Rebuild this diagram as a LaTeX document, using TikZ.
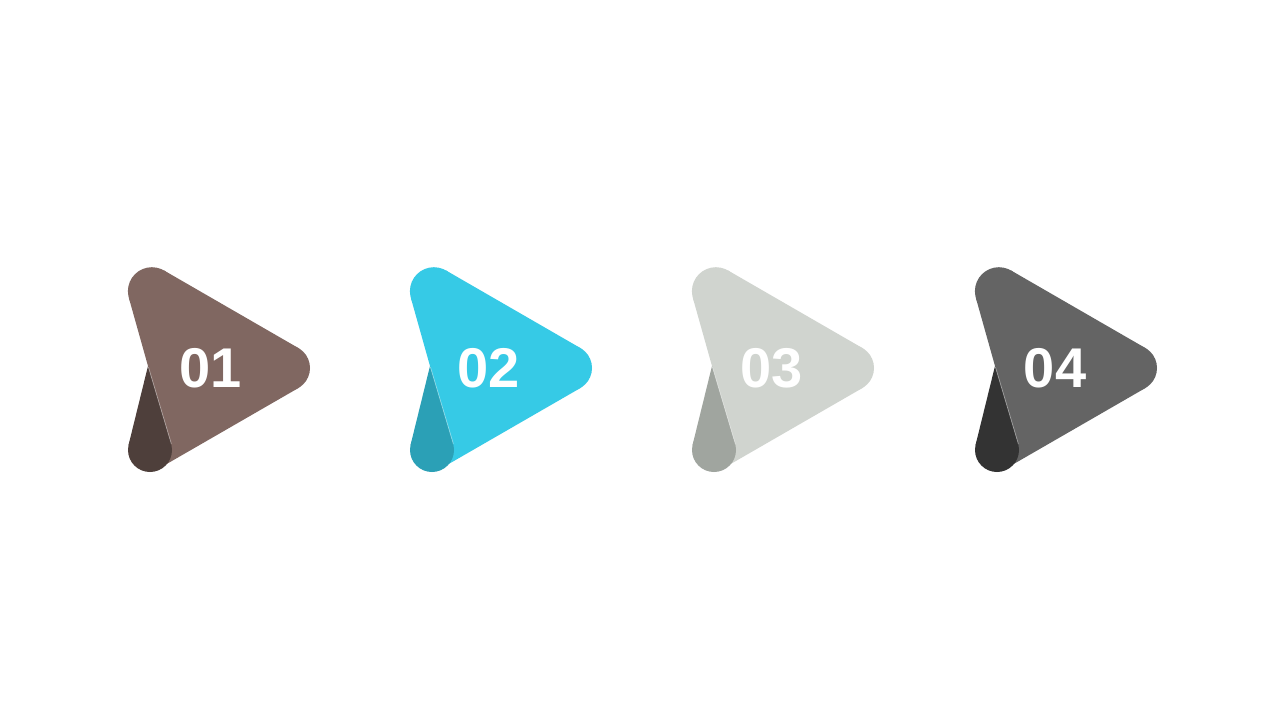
\documentclass[tikz,border=0pt]{standalone}
\usepackage{fontspec}
\setmainfont{Liberation Sans}
\definecolor{lightA}{HTML}{806761}
\definecolor{darkA}{HTML}{4E3F3B}
\definecolor{lightB}{HTML}{36CAE6}
\definecolor{darkB}{HTML}{2BA0B6}
\definecolor{lightC}{HTML}{D0D4CF}
\definecolor{darkC}{HTML}{A0A59F}
\definecolor{lightD}{HTML}{646464}
\definecolor{darkD}{HTML}{333333}
\tikzset{
  numlabel/.style={text=white, inner sep=0pt, font=\fontsize{56}{60}\selectfont\bfseries},
  glint/.style={draw=white, draw opacity=0.45, line width=0.7pt}
}
% #1 x shift, #2 light colour, #3 dark colour, #4 label, #5 label x, #6 name
\newcommand\playshape[6]{%
  \begin{scope}[xshift=#1pt]
    \fill[#2] (163.9,270.4) -- (298.5,348.1) -- (298.6,387.9) -- (158,469)
      -- (148,366) -- (128.8,297.7) -- cycle;
    \fill[#2] (151.9,291.2) circle (24);
    \fill[#2] (287,368) circle (23);
    \fill[#3] (148,366) -- (128.6,444.8) -- (171.1,443.7) -- cycle;
    \fill[#3] (150,450) circle (22);
    \draw[glint] (148.4,367) -- (171.3,443.7);
  \end{scope}
  \node[numlabel] (#6) at (#5,368) {#4};
}
\begin{document}
\begin{tikzpicture}[x=1pt,y=-1pt]
  \useasboundingbox (0,0) rectangle (1280,720);
  \fill[white] (0,0) rectangle (1280,720);
  \playshape{0}{lightA}{darkA}{01}{211}{t1}
  \playshape{282}{lightB}{darkB}{02}{489}{t2}
  \playshape{564}{lightC}{darkC}{03}{772}{t3}
  \playshape{847}{lightD}{darkD}{04}{1055}{t4}
\end{tikzpicture}
\end{document}
